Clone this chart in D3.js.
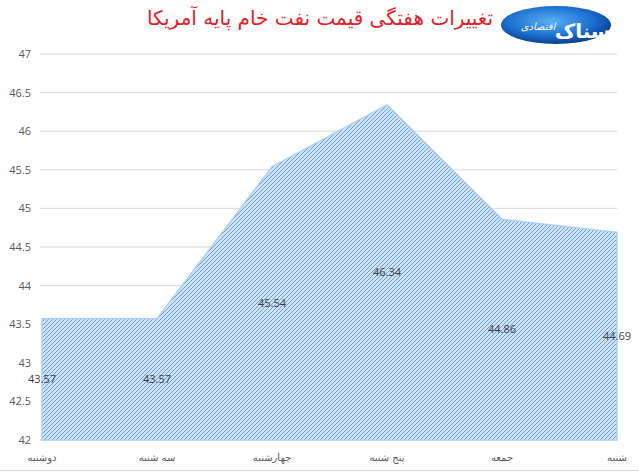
<!DOCTYPE html>
<html>
<head>
<meta charset="utf-8">
<script src="https://cdnjs.cloudflare.com/ajax/libs/d3/7.8.5/d3.min.js"></script>
<style>
  body { margin: 0; background: #fff; }
  svg { display: block; }
</style>
</head>
<body>
<div id="chart"></div>
<script>
const days = ['دوشنبه', 'سه شنبه', 'چهارشنبه', 'پنج شنبه', 'جمعه', 'شنبه'];
const prices = [43.57, 43.57, 45.54, 46.34, 44.86, 44.69];
const yTicks = [42, 42.5, 43, 43.5, 44, 44.5, 45, 45.5, 46, 46.5, 47];
const title = 'تغییرات هفتگی قیمت نفت خام پایه آمریکا';

const width = 639;
const height = 473;

const svg = d3.select('#chart').append('svg')
  .attr('width', width)
  .attr('height', height);

const defs = svg.append('defs');
const hatch = defs.append('pattern')
  .attr('id', 'hatch')
  .attr('patternUnits', 'userSpaceOnUse')
  .attr('width', 4)
  .attr('height', 4);
hatch.append('rect').attr('width', 4).attr('height', 4).attr('fill', '#cfe3f8');
hatch.append('path')
  .attr('d', 'M-1,1 l2,-2 M0,4 l4,-4 M3,5 l2,-2')
  .attr('stroke', '#5b96d8')
  .attr('stroke-width', 0.9);

const grad = defs.append('radialGradient').attr('id', 'logoGrad')
  .attr('cx', '45%').attr('cy', '40%').attr('r', '60%');
grad.append('stop').attr('offset', '0%').attr('stop-color', '#5ab0f5');
grad.append('stop').attr('offset', '65%').attr('stop-color', '#1a6fd0');
grad.append('stop').attr('offset', '100%').attr('stop-color', '#0b3f8f');

const x = d3.scalePoint().domain(days).range([42, 617]);
const y = d3.scaleLinear().domain([42, 47]).range([440, 54]);

// gridlines
svg.append('g')
  .selectAll('line')
  .data(yTicks)
  .join('line')
  .attr('x1', 40)
  .attr('x2', 617)
  .attr('y1', (d) => y(d))
  .attr('y2', (d) => y(d))
  .attr('stroke', '#d9d9d9')
  .attr('stroke-width', 1);

const yAxis = d3.axisLeft(y).tickValues(yTicks).tickSize(0).tickPadding(0)
  .tickFormat((d) => d3.format('~g')(d));
svg.append('g')
  .attr('transform', 'translate(31,0)')
  .call(yAxis)
  .call((g) => g.select('.domain').remove())
  .selectAll('text')
  .attr('font-family', 'Open Sans, sans-serif')
  .attr('font-size', 11)
  .attr('fill', '#595959');

const area = d3.area()
  .x((d, i) => x(days[i]))
  .y0(y(42))
  .y1((d) => y(d));

svg.append('path')
  .datum(prices)
  .attr('d', area)
  .attr('fill', 'url(#hatch)')
  .attr('stroke', '#acd0f3')
  .attr('stroke-width', 1.5);

// data labels at mid-height of each value
svg.append('g')
  .selectAll('text')
  .data(prices)
  .join('text')
  .attr('x', (d, i) => x(days[i]))
  .attr('y', (d) => (y(d) + y(42)) / 2)
  .attr('dy', '0.35em')
  .attr('text-anchor', 'middle')
  .attr('font-family', 'Open Sans, sans-serif')
  .attr('font-size', 11)
  .attr('fill', '#404040')
  .text((d) => d);

// category labels
svg.append('g')
  .selectAll('text')
  .data(days)
  .join('text')
  .attr('x', (d) => x(d))
  .attr('y', 457)
  .attr('dy', '0.35em')
  .attr('text-anchor', 'middle')
  .attr('font-family', 'DejaVu Sans, sans-serif')
  .attr('font-size', 10)
  .attr('fill', '#595959')
  .text((d) => d);

// bottom frame line
svg.append('line')
  .attr('x1', 0).attr('x2', width)
  .attr('y1', 470.5).attr('y2', 470.5)
  .attr('stroke', '#dcdcdc');

// title
svg.append('text')
  .attr('x', 320)
  .attr('y', 25)
  .attr('text-anchor', 'middle')
  .attr('font-family', 'DejaVu Sans, sans-serif')
  .attr('font-size', 20)
  .attr('fill', '#e41e26')
  .text(title);

// logo
const logo = svg.append('g');
logo.append('ellipse')
  .attr('cx', 556).attr('cy', 25).attr('rx', 55).attr('ry', 19)
  .attr('fill', 'url(#logoGrad)');
logo.append('text')
  .attr('x', 586).attr('y', 38)
  .attr('text-anchor', 'middle')
  .attr('font-family', 'DejaVu Sans, sans-serif')
  .attr('font-size', 20)
  .attr('font-weight', 'bold')
  .attr('fill', '#fff')
  .text('اسناک');
logo.append('text')
  .attr('x', 538).attr('y', 30)
  .attr('text-anchor', 'middle')
  .attr('font-family', 'DejaVu Sans, sans-serif')
  .attr('font-size', 10)
  .attr('font-style', 'italic')
  .attr('fill', '#fff')
  .text('اقتصادی');
</script>
</body>
</html>
